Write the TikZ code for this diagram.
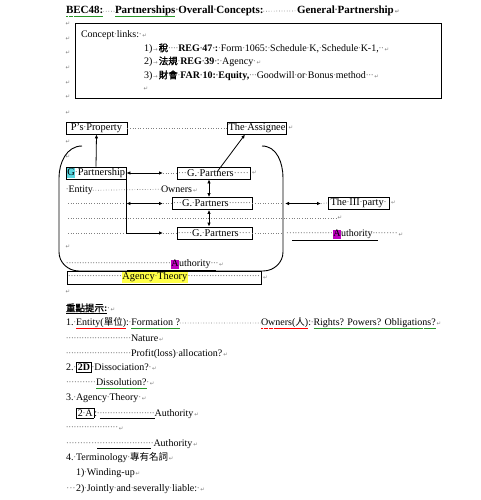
\documentclass[tikz,border=0pt]{standalone}
\usepackage{fontspec}
\setmainfont{Liberation Serif}
\newfontfamily\cjk[AutoFakeBold=1.5]{Noto Sans CJK TC}
\newfontfamily\symfont{DejaVu Sans}
\usetikzlibrary{arrows.meta, positioning}

\definecolor{marks}{gray}{0.5}
\definecolor{hlcyan}{RGB}{90,215,225}
\definecolor{hlmag}{RGB}{190,0,190}
\definecolor{hlyel}{RGB}{255,255,70}
\definecolor{spellgreen}{RGB}{40,150,40}

% word-view marks
\newcommand\ws{\hbox to 0.25em{\hss\color{marks}\textperiodcentered\hss}}
\newcommand\spcrun[1]{\hbox to #1{\color{marks}\xleaders\hbox to 2.6pt{\hss\textperiodcentered\hss}\hfill}}
\newcommand\fillrun{{\color{marks}\xleaders\hbox to 2.6pt{\hss\textperiodcentered\hss}\hfill}}
\newcommand\pmk{{\symfont\fontsize{5.5}{6}\selectfont\color{marks}\,↵}}
\newcommand\tabmk{{\symfont\fontsize{5.5}{6}\selectfont\color{marks}\,→\,}}
\newcommand\hlt[2]{{\setlength\fboxsep{0.4pt}\colorbox{#1}{\vphantom{Ay}#2}}}
\newcommand\kbox[1]{{\setlength\fboxsep{1pt}\setlength\fboxrule{0.8pt}\fbox{#1}}}
\newcommand\zh[1]{{\cjk\fontsize{9.5}{11}\selectfont #1}}
\newcommand\zhb[1]{{\cjk\bfseries\fontsize{9.5}{11}\selectfont #1}}
% wavy spelling line under a word
\newcommand\spellu[2]{\setbox0\hbox{#2}\leavevmode\rlap{\color{#1}\hbox to \wd0{\xleaders\hbox to 2.4pt{\vrule height -2.2pt depth 2.6pt width 1.2pt\vrule height -2.7pt depth 3.1pt width 1.2pt}\hfill}}\box0\relax}

\tikzset{
  txt/.style={anchor=base west, inner sep=0pt, outer sep=0pt, font=\fontsize{10}{12}\selectfont},
  ttl/.style={txt, font=\bfseries\fontsize{11}{13}\selectfont},
  pmark/.style={inner sep=0pt, font=\symfont\fontsize{5.5}{6}\selectfont, text=marks},
  gbox/.style={draw, line width=0.8pt, inner sep=1pt, minimum height=12pt, font=\fontsize{10.4}{12}\selectfont},
  spc/.style={draw=marks, line width=0.7pt, dash pattern=on 0.7pt off 1.9pt},
  arr/.style={-{Latex[length=4pt,width=3.5pt]}, line width=0.8pt},
  darr/.style={{Latex[length=4pt,width=3.5pt]}-{Latex[length=4pt,width=3.5pt]}, line width=0.8pt},
  frame/.style={line width=0.9pt}
}

\begin{document}
\begin{tikzpicture}[x=1pt, y=-1pt]

\fill[white] (0,0) rectangle (481,500);
\useasboundingbox (0,0) rectangle (481,500);

% Title
\node[ttl] (title1) at (66,13.5) {\spellu{spellgreen}{BEC48:}};
\node[ttl] (title2) at (115,13.5) {\spellu{spellgreen}{Partnerships}\ws Overall\ws Concepts:};
\node[ttl] (title3) at (297,13.5) {General\ws Partnership\pmk};
\draw[spc] (title1.east) -- (title2.west);
\draw[spc] (title2.east) -- (title3.west);

% Concept links
\foreach \y in {24,39,53,68,83,97}
  \node[pmark] (lm\y) at (68,\y) {↵};
\node[draw, line width=0.9pt, minimum width=366pt, minimum height=75pt, anchor=north west] (linkbox) at (75,23) {};
\node[txt] (links) at (81,37.5) {Concept\ws links:\ws\pmk};
\node[txt] (lk1) at (144,51.5) {1)\tabmk\zhb{稅}\ws\ws\ws\ws\textbf{REG\ws 47\ws:}\ws Form\ws 1065:\ws Schedule\ws K,\ws Schedule\ws K-1,\ws\ws\pmk};
\node[txt] (lk2) at (144,64.5) {2)\tabmk\zhb{法規}\ws\textbf{REG\ws 39\ws}:\ws Agency\ws\pmk};
\node[txt] (lk3) at (144,78.5) {3)\tabmk\zhb{財會}\ws\textbf{FAR\ws 10:\ws Equity,}\ws\ws\ws Goodwill\ws or\ws Bonus\ws method\ws\ws\ws\pmk};
\node[pmark] (lk4) at (146,89) {↵};

% Property and assignee
\node[pmark] (lm113) at (68,113) {↵};
\node[gbox, minimum width=61pt] (pprop) at (96.5,128) {P's\ws Property};
\node[gbox, minimum width=58pt] (assg) at (257,128) {The\ws Assignee};
\node[pmark, right=1.5pt of assg] (assgpm) {↵};
\draw[spc] (pprop.east) -- (assg.west);
\node[pmark] (lm142) at (68,142) {↵};
\node[pmark] (lm157) at (68,157) {↵};

% Frame
\draw[frame] (82,146) to[out=180,in=90] (59,178) -- (59,252) to[out=270,in=180] (79,271)
  -- (263,271) to[out=0,in=270] (283,252) -- (283,178) to[out=90,in=0] (262,146);

% Partnership and partners
\node[gbox, minimum width=60pt, inner sep=0pt] (gpship) at (96,173) {\hlt{hlcyan}{G}\ws Partnership};
\node[gbox] (gp1) at (213.5,173) {\hbox to 71pt{\spcrun{9pt}G.\ws Partners\fillrun}};
\node[pmark, right=1.5pt of gp1] (gp1pm) {↵};
\node[gbox] (gp2) at (212,203.5) {\hbox to 78pt{\spcrun{9pt}G.\ws Partners\fillrun}};
\node[gbox] (gp3) at (214.5,233) {\hbox to 73pt{\spcrun{14pt}G.\ws Partners\fillrun}};
\node[gbox, minimum width=61pt] (thirdp) at (358.5,203) {The\ws III\ws party\ws};
\node[pmark, right=1.5pt of thirdp] (thirdpm) {↵};

\node[txt] (entity) at (66,192.5) {\ws Entity};
\node[txt] (owners) at (161,192.5) {Owners\pmk};
\draw[spc] (entity.east) -- (owners.west);

\coordinate (tip1) at (163,173);
\coordinate (tip2) at (163,203.5);
\coordinate (tip3) at (163,233);
\coordinate (vx) at (209,0);
\coordinate (rt1) at (285,203.5);
\coordinate (tip4) at (321,203.5);

\draw[arr] (gpship.north) -- (pprop.south);
\coordinate (asgfoot) at (217,172);
\coordinate (asgin) at (245,134.5);
\draw[arr] (asgfoot) -- (asgin);
\draw[darr] (gpship.east) -- (tip1);
\draw[spc] (tip1) -- (gp1.west);
\draw[arr] (gpship.south east) |- (tip3);
\draw[darr] (gpship.east |- tip2) -- (tip2);
\draw[spc] (tip2) -- (gp2.west);
\draw[spc] (tip3) -- (gp3.west);
\draw[darr] (gp1.south -| vx) -- (gp2.north -| vx);
\draw[darr] (gp2.south -| vx) -- (gp3.north -| vx);
\draw[spc] (gp2.east) -- (282,203.5);
\draw[darr] (rt1) -- (tip4);
\draw[spc] (tip4) -- (thirdp.west);

% space marks
\draw[spc] (68,203.5) -- (125,203.5);
\draw[spc] (68,218) -- (336,218);
\node[pmark] (pm218) at (340,218) {↵};
\draw[spc] (68,233) -- (125,233);
\draw[spc] (gp3.east) -- (282,233);
\node[txt] (auth1) at (286,236.5) {\spcrun{6pt}\underline{\spcrun{41pt}\hlt{hlmag}{A}uthority\ws\ws}\spcrun{20pt}\pmk};
\node[pmark] (lm247) at (68,247) {↵};
\node[txt] (auth2) at (66,266.5) {\spcrun{61pt}\underline{\spcrun{44pt}\hlt{hlmag}{A}uthority\ws\ws}\ws\pmk};

% Agency theory
\node[gbox, inner sep=1pt, minimum height=13pt, fill=white] (agency) at (164,277.5)
  {\hbox to 192pt{\spcrun{54pt}\hlt{hlyel}{Agency\ws Theory}\fillrun}};
\node[pmark, right=1.5pt of agency] (agencypm) {↵};
\node[pmark] (lm292) at (68,292) {↵};

% Key points
\node[txt] (keyp) at (66,311.5) {\underline{\zhb{重點提示}\textbf{:}}\ws\pmk};
\node[txt] (pt1) at (66,325.5) {1.\ws\spellu{red}{Entity(\zh{單位})}:\ws\spellu{spellgreen}{Formation ?}};
\node[txt] (pt1b) at (261,325.5) {\spellu{red}{Owners(\zh{人})}:\ws\spellu{spellgreen}{Rights? Powers? Obligations?}\pmk};
\draw[spc] (pt1.east) -- (pt1b.west);
\node[txt] (nature) at (66,341.5) {\spcrun{65pt}Nature\pmk};
\node[txt] (profit) at (66,356.5) {\spcrun{65pt}Profit(loss)\ws allocation?\pmk};
\node[txt] (pt2) at (66,370.5) {2.\ws\kbox{\textbf{2D}}\ws Dissociation?\ws\pmk};
\node[txt] (dissol) at (66,385.5) {\spcrun{30pt}\spellu{spellgreen}{Dissolution?}\ws\pmk};
\node[txt] (pt3) at (66,400.5) {3.\ws Agency\ws Theory\ws\pmk};
\node[txt] (pt3a) at (76,416.5) {\kbox{2\ws A}:\ws\underline{\spcrun{55pt}}Authority\pmk};
\node[txt] (pt3b) at (66,430.5) {\spcrun{52pt}\pmk};
\node[txt] (pt3c) at (66,446.5) {\spcrun{31pt}\underline{\spcrun{54pt}}\ws Authority\pmk};
\node[txt] (pt4) at (66,460.5) {4.\ws Terminology\ws\zh{專有名詞}\pmk};
\node[txt] (pt4a) at (76,475.5) {1)\ws Winding-up\pmk};
\node[txt] (pt4b) at (66,491.5) {\spcrun{10pt}2)\ws Jointly\ws and\ws severally\ws liable:\ws\pmk};

\end{tikzpicture}
\end{document}
